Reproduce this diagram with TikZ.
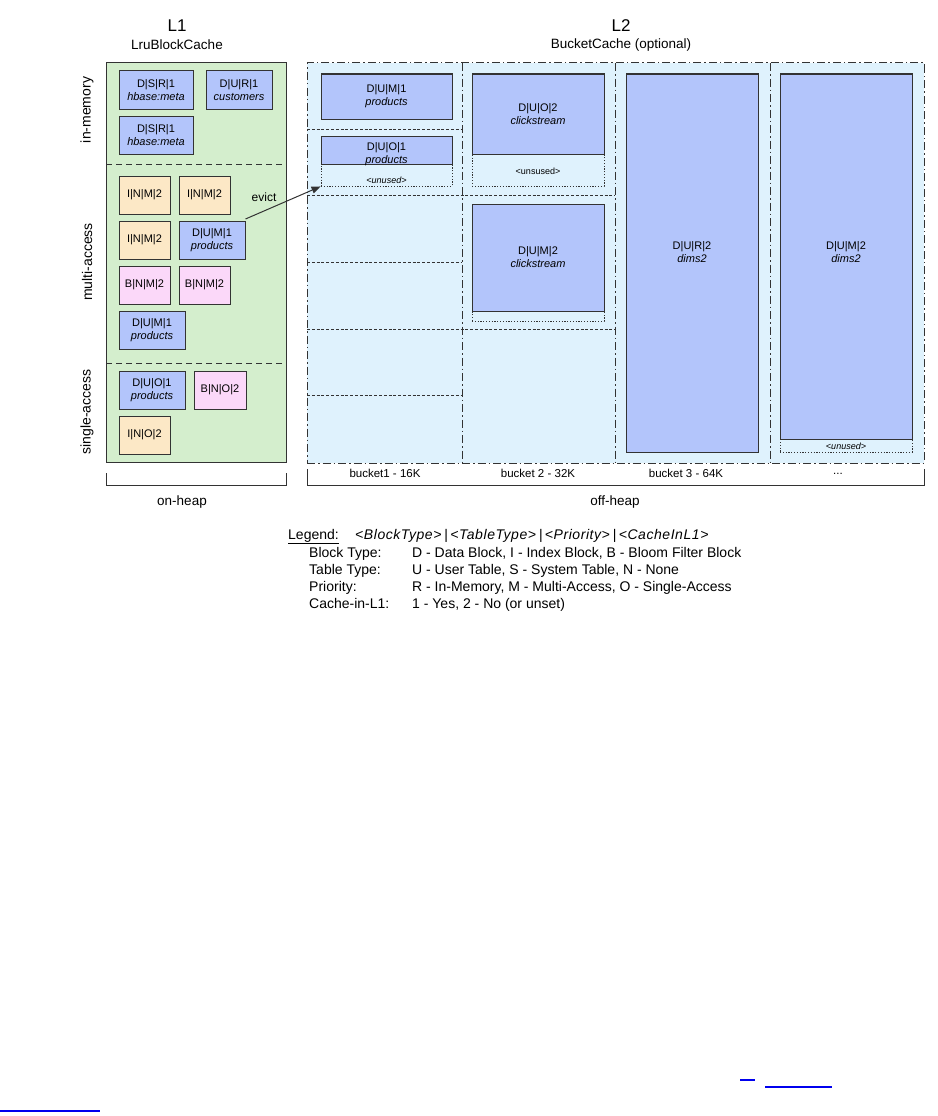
\documentclass[tikz,border=0pt]{standalone}
\usepackage{fontspec}
\setmainfont{Liberation Sans}
\usetikzlibrary{arrows.meta}
\definecolor{l1green}{HTML}{D4EECD}
\definecolor{l2blue}{HTML}{DFF2FD}
\definecolor{dblue}{HTML}{B3C5FB}
\definecolor{iyellow}{HTML}{FCE8C6}
\definecolor{bpink}{HTML}{FBD8F9}
\definecolor{edge}{HTML}{333333}
\definecolor{linkblue}{HTML}{0000EE}
\begin{document}
\begin{tikzpicture}[x=1pt,y=-1pt,
  blk/.style={draw=edge, line width=1pt, inner sep=0pt, align=center,
    font=\fontsize{11}{13}\selectfont},
  dblk/.style={blk, fill=dblue},
  iblk/.style={blk, fill=iyellow},
  bblk/.style={blk, fill=bpink},
  sz/.style 2 args={minimum width=#1, minimum height=#2},
  title/.style={font=\fontsize{17}{20}\selectfont, inner sep=0pt},
  subtitle/.style={font=\fontsize{13.5}{16}\selectfont, inner sep=0pt},
  side/.style={rotate=90, font=\fontsize{14}{16}\selectfont, inner sep=0pt},
  small/.style={font=\fontsize{11.5}{13}\selectfont, inner sep=0pt},
  tiny/.style={font=\fontsize{9}{10}\selectfont\itshape, inner sep=0pt},
  leg/.style={font=\fontsize{14}{16}\selectfont, inner sep=0pt, anchor=base west},
  l1sep/.style={draw=edge, line width=1pt, dash pattern=on 6pt off 4pt},
  dashdot/.style={draw=edge, line width=1pt, dash pattern=on 8pt off 3pt on 1.5pt off 3pt},
  slotsep/.style={draw=edge, line width=0.9pt, dash pattern=on 3pt off 1.8pt},
  unusedbox/.style={draw=edge, line width=0.9pt, dash pattern=on 1.2pt off 1.6pt, inner sep=0pt},
  bracket/.style={draw=edge, line width=1pt},
  link/.style={draw=linkblue, line width=1.2pt}]
\useasboundingbox[fill=white] (0,0) rectangle (937,1116);

% ---------- L1 ----------
\node[title] (l1t) at (177,26) {L1};
\node[subtitle] (l1s) at (177,45) {LruBlockCache};
\node[draw=edge, fill=l1green, line width=1pt, sz={180}{399}, inner sep=0pt] (l1) at (196,262.5) {};
\draw[l1sep] (106,164) -- (286,164);
\draw[l1sep] (106,363) -- (286,363);
\node[side] (inmem) at (87,110) {in-memory};
\node[side] (multi) at (87,262) {multi-access};
\node[side] (single) at (87,412) {single-access};

\node[dblk, sz={74}{38}] (dsr1) at (156,90) {D|S|R|1\\\textit{hbase:meta}};
\node[dblk, sz={66}{38}] (dur1) at (239,90) {D|U|R|1\\\textit{customers}};
\node[dblk, sz={74}{38}] (dsr1b) at (156,135) {D|S|R|1\\\textit{hbase:meta}};
\node[iblk, sz={51}{38}] (inm1) at (144.5,195) {I|N|M|2};
\node[iblk, sz={51}{38}] (inm2) at (204.5,195) {I|N|M|2};
\node[iblk, sz={51}{38}] (inm3) at (144.5,240) {I|N|M|2};
\node[dblk, sz={66}{38}] (dum1) at (212,240) {D|U|M|1\\\textit{products}};
\node[bblk, sz={51}{38}] (bnm1) at (144.5,285) {B|N|M|2};
\node[bblk, sz={51}{38}] (bnm2) at (204.5,285) {B|N|M|2};
\node[dblk, sz={66}{38}] (dum1b) at (152,330) {D|U|M|1\\\textit{products}};
\node[dblk, sz={66}{38}] (duo1) at (152,390) {D|U|O|1\\\textit{products}};
\node[bblk, sz={52}{38}] (bno2) at (220,390) {B|N|O|2};
\node[iblk, sz={51}{38}] (ino2) at (144.5,435) {I|N|O|2};

\draw[bracket] (106,473) -- (106,485) -- (286,485) -- (286,473);
\node[subtitle] (onheap) at (182,502) {on-heap};

% ---------- L2 ----------
\node[title] (l2t) at (621,26) {L2};
\node[subtitle] (l2s) at (621,45) {BucketCache (optional)};
\node[fill=l2blue, dashdot, sz={617}{400}, inner sep=0pt] (l2) at (615.5,263) {};
\draw[dashdot] (462,63) -- (462,463);
\draw[dashdot] (615,63) -- (615,463);
\draw[dashdot] (770,63) -- (770,463);
% slot separators
\draw[slotsep] (307,129) -- (462,129);
\draw[slotsep] (307,195) -- (615,195);
\draw[slotsep] (307,262) -- (462,262);
\draw[slotsep] (307,329) -- (615,329);
\draw[slotsep] (307,395) -- (462,395);

% bucket 1
\node[dblk, sz={131}{45}] (b1a) at (386.5,96.5) {D|U|M|1\\\textit{products}};
\node[unusedbox, sz={131}{22}] (b1u) at (386.5,175) {};
\node[dblk, sz={131}{28}] (b1b) at (386.5,150) {};
\node[blk, draw=none] (b1bt) at (386.5,154) {D|U|O|1\\\textit{products}};
\node[tiny] (b1ut) at (386.5,180) {<unused>};

% bucket 2
\node[unusedbox, sz={132}{32}] (b2u) at (538,170) {};
\node[dblk, sz={132}{80}] (b2a) at (538,114) {D|U|O|2\\\textit{clickstream}};
\node[font=\fontsize{9}{10}\selectfont, inner sep=0pt] (b2ut) at (538,171) {<unsused>};
\node[unusedbox, sz={132}{10}] (b2u2) at (538,316) {};
\node[dblk, sz={132}{107}] (b2b) at (538,257.5) {D|U|M|2\\\textit{clickstream}};

% bucket 3
\node[dblk, sz={132}{378}] (b3) at (692,263) {};
\node[blk, draw=none] (b3t) at (692,252.5) {D|U|R|2\\\textit{dims2}};

% bucket 4
\node[unusedbox, sz={132}{13}] (b4u) at (846,445.5) {};
\node[dblk, sz={132}{365}] (b4) at (846,256.5) {};
\node[blk, draw=none] (b4t) at (846,252.5) {D|U|M|2\\\textit{dims2}};
\node[tiny] (b4ut) at (846,446) {<unused>};

% bucket labels
\node[small] (bk1) at (385,473) {bucket1 - 16K};
\node[small] (bk2) at (538,473) {bucket 2 - 32K};
\node[small] (bk3) at (686,473) {bucket 3 - 64K};
\node[small] (bk4) at (838,474) {...};

\draw[bracket] (307,469) -- (307,485) -- (924,485) -- (924,469);
\node[subtitle] (offheap) at (615,502) {off-heap};

% evict arrow
\draw[edge, line width=1pt, -{Triangle[length=9pt,width=7pt]}] ([yshift=1.5pt]dum1.north east) -- (b1u.south west);
\node[font=\fontsize{12}{14}\selectfont, inner sep=0pt] (evict) at (264,197) {evict};

% ---------- Legend ----------
\node[leg] (legend) at (288,539) {\underline{Legend:}};
\node[leg] (fmt) at (355,539) {\addfontfeature{LetterSpace=4}\textit{<BlockType>}\,|\,\textit{<TableType>}\,|\,\textit{<Priority>}\,|\,\textit{<CacheInL1>}};
\node[leg] (r1a) at (309,557) {Block Type:};
\node[leg] (r1b) at (412,557) {D - Data Block, I - Index Block, B - Bloom Filter Block};
\node[leg] (r2a) at (309,574) {Table Type:};
\node[leg] (r2b) at (412,574) {U - User Table, S - System Table, N - None};
\node[leg] (r3a) at (309,591) {Priority:};
\node[leg] (r3b) at (412,591) {R - In-Memory, M - Multi-Access, O - Single-Access};
\node[leg] (r4a) at (309,608) {Cache-in-L1:};
\node[leg] (r4b) at (412,608) {1 - Yes, 2 - No (or unset)};

% ---------- stray link underlines ----------
\draw[link] (740,1080) -- (755,1080);
\draw[link] (765,1087) -- (832,1087);
\draw[link] (0,1111) -- (100,1111);
\end{tikzpicture}
\end{document}
